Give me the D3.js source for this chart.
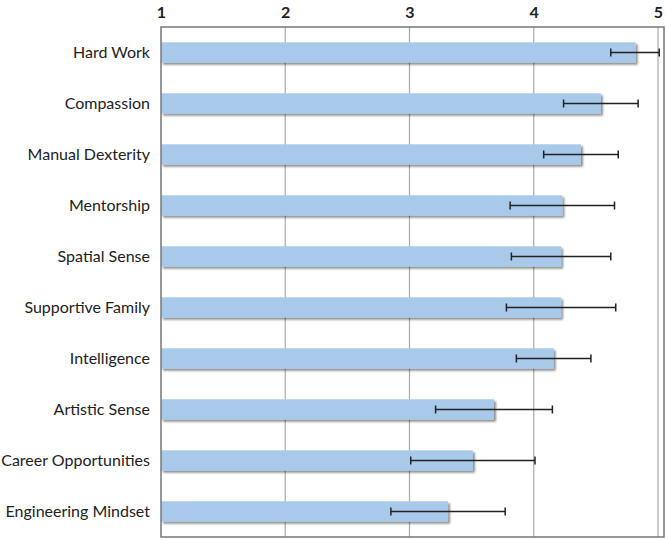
<!DOCTYPE html>
<html><head><meta charset="utf-8">
<script src="https://cdn.jsdelivr.net/npm/d3@7"></script>
<style>body{margin:0;background:#fff;}svg{display:block;}</style>
</head><body>
<svg id="chart" width="666" height="540"></svg>
<script>
const categories = ["Hard Work","Compassion","Manual Dexterity","Mentorship","Spatial Sense","Supportive Family","Intelligence","Artistic Sense","Career Opportunities","Engineering Mindset"];
const means = [4.82,4.54,4.38,4.23,4.22,4.22,4.16,3.68,3.51,3.31];
const errors = [0.20,0.30,0.30,0.42,0.40,0.44,0.30,0.47,0.50,0.46];
const tickValues = [1,2,3,4,5];

const svg = d3.select("#chart");
const mLeft = 161, mRight = 658, frameRight = 664, mTop = 27, mBottom = 537;
const x = d3.scaleLinear().domain([1,5]).range([mLeft,mRight]);
const y = d3.scaleBand().domain(categories).range([mTop,mBottom]).paddingInner(0.6).paddingOuter(0.3);

const defs = svg.append("defs");
const f = defs.append("filter").attr("id","sh").attr("x","-5%").attr("y","-50%").attr("width","110%").attr("height","200%");
f.append("feGaussianBlur").attr("in","SourceAlpha").attr("stdDeviation",1.2).attr("result","b");
f.append("feOffset").attr("in","b").attr("dx",2).attr("dy",2).attr("result","o");
f.append("feComponentTransfer").attr("in","o").attr("result","o2").append("feFuncA").attr("type","linear").attr("slope",0.45);
const m = f.append("feMerge");
m.append("feMergeNode").attr("in","o2");
m.append("feMergeNode").attr("in","SourceGraphic");

// gridlines
svg.append("g").selectAll("line").data(tickValues.slice(1)).join("line")
  .attr("x1",d=>x(d)).attr("x2",d=>x(d)).attr("y1",mTop).attr("y2",mBottom)
  .attr("stroke","#aaa").attr("stroke-width",1.2);

// top axis labels
const ax = d3.axisTop(x).tickValues(tickValues).tickFormat(d3.format("d")).tickSize(0).tickPadding(0);
const axg = svg.append("g").attr("transform",`translate(0,${mTop})`).call(ax);
axg.select(".domain").remove();
axg.selectAll("text").attr("y",-9).attr("font-family","Lato, 'Open Sans', sans-serif").attr("font-size",16).attr("font-weight","bold").attr("fill","#222");

// bars
svg.append("g").selectAll("rect").data(categories).join("rect")
  .attr("x",x(1)).attr("y",d=>y(d)).attr("height",y.bandwidth())
  .attr("width",(d,i)=>x(means[i])-x(1))
  .attr("fill","#a9c9eb").attr("filter","url(#sh)");

// error bars
const eg = svg.append("g").attr("stroke","#222").attr("stroke-width",1.5);
categories.forEach((c,i)=>{
  const cy = y(c)+y.bandwidth()/2;
  const x0 = x(means[i]-errors[i]), x1 = x(Math.min(means[i]+errors[i],5.01));
  eg.append("line").attr("x1",x0).attr("x2",x1).attr("y1",cy).attr("y2",cy);
  eg.append("line").attr("x1",x0).attr("x2",x0).attr("y1",cy-4).attr("y2",cy+4);
  eg.append("line").attr("x1",x1).attr("x2",x1).attr("y1",cy-4).attr("y2",cy+4);
});

// frame
svg.append("rect").attr("x",mLeft).attr("y",mTop).attr("width",frameRight-mLeft).attr("height",mBottom-mTop)
  .attr("fill","none").attr("stroke","#777").attr("stroke-width",1.5);

// category labels
const ay = d3.axisLeft(y).tickSize(0).tickPadding(11);
const ayg = svg.append("g").attr("transform",`translate(${mLeft},0)`).call(ay);
ayg.select(".domain").remove();
ayg.selectAll("text").attr("font-family","Lato, 'Open Sans', sans-serif").attr("font-size",16).attr("fill","#222");
</script>
</body></html>
